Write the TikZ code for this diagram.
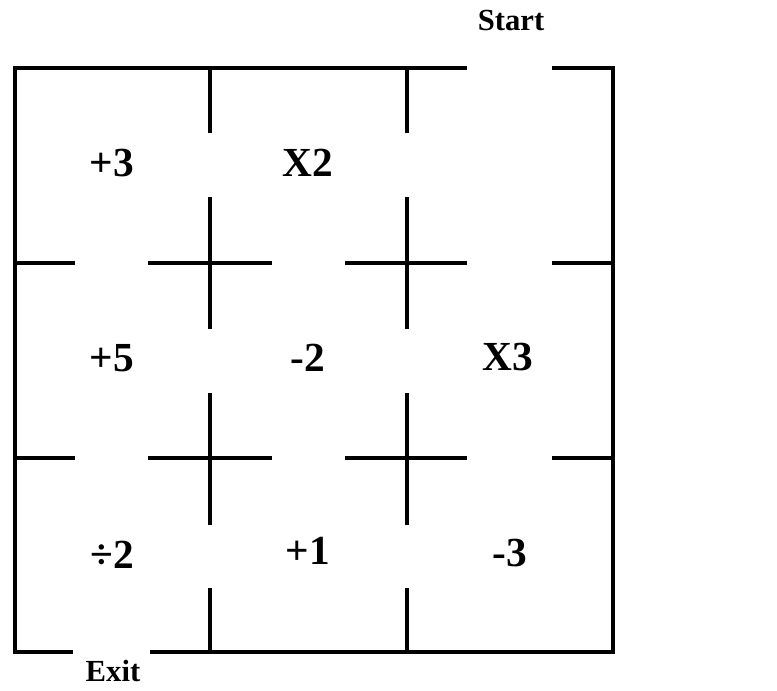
\documentclass[tikz,border=0pt]{standalone}
\usepackage{fontspec}
\setmainfont{Liberation Serif}
\usetikzlibrary{positioning}
\tikzset{
  wall/.style={line width=3.3pt, draw=black, line cap=butt, line join=miter},
  cellval/.style={font=\fontsize{31}{36}\selectfont\bfseries, inner sep=0pt},
  doorlbl/.style={font=\fontsize{23}{27}\selectfont\bfseries, inner sep=0pt},
}

\begin{document}
\begin{tikzpicture}[x=0.75pt, y=-0.75pt]
    \useasboundingbox (0,0) rectangle (777,690);
    % outer walls, openings for start and exit
    \draw[wall] (467,68) -- (15,68) -- (15,652) -- (73,652);
    \draw[wall] (150,652) -- (613,652) -- (613,68) -- (552,68);
    % inner walls with doors
    \foreach \x in {210,407} {
      \foreach \a/\b in {68/133, 197/329, 393/525, 588/652}
        \draw[wall] (\x,\a) -- (\x,\b);
    }
    \foreach \y in {263,458} {
      \foreach \a/\b in {15/75, 148/272, 345/467, 552/613}
        \draw[wall] (\a,\y) -- (\b,\y);
    }
    % room values
    \node[cellval] (r11) at (112,163) {+3};
    \node[cellval] (r12) at (308,163) {X2};
    \node[cellval] (r21) at (112,358) {+5};
    \node[cellval] (r22) at (308,358) {-2};
    \node[cellval] (r23) at (508,357) {X3};
    \node[cellval] (r31) at (112,555) {÷2};
    \node[cellval] (r32) at (308,551) {+1};
    \node[cellval] (r33) at (510,553) {-3};
    \node[doorlbl] (start) at (511,20) {Start};
    \node[doorlbl] (exit) at (113,671) {Exit};
  \end{tikzpicture}
\end{document}
